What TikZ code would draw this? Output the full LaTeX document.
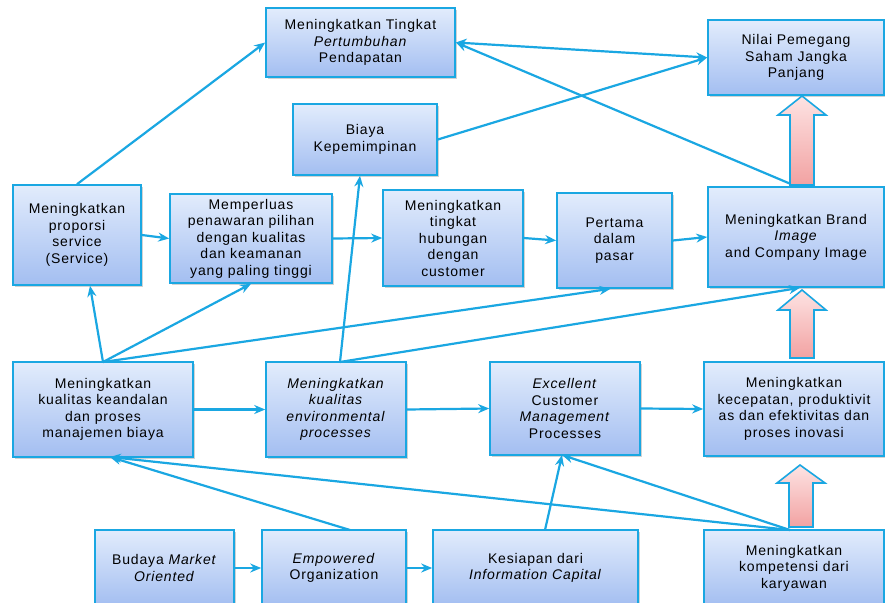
\documentclass[tikz,border=0pt]{standalone}
\usepackage{fontspec}
\setmainfont{Liberation Sans}[LetterSpace=6]
\usetikzlibrary{arrows.meta,shadows,calc}

\definecolor{edge}{HTML}{1AA7E2}
\definecolor{boxtop}{HTML}{E2ECFC}
\definecolor{boxbot}{HTML}{A3BEF1}
\definecolor{pinktop}{HTML}{FDE3E3}
\definecolor{pinkbot}{HTML}{F2A2A2}

\tikzset{
  box/.style={draw=edge, line width=1.6pt, rectangle, align=center,
    top color=boxtop, bottom color=boxbot,
    font=\fontsize{14}{16.5}\selectfont, inner sep=1pt,
    drop shadow={opacity=0.35, shadow xshift=2pt, shadow yshift=-2pt}},
  link/.style={draw=edge, line width=2.2pt, -{Stealth[length=11pt,width=9pt]}},
  duallink/.style={draw=edge, line width=2.2pt, {Stealth[length=11pt,width=9pt]}-{Stealth[length=11pt,width=9pt]}},
  blockarrow/.style={draw=edge, line width=1.6pt, top color=pinktop, bottom color=pinkbot, line join=miter}
}

\begin{document}
\begin{tikzpicture}[x=1pt,y=-1pt]
\useasboundingbox (0,0) rectangle (885,602);
\fill[white] (0,0) rectangle (885,602);

% boxes, top to bottom
\node[box, minimum width=189pt, minimum height=69pt] (tingkat) at (360.5,42.5)
  {Meningkatkan Tingkat\\\textit{Pertumbuhan}\\Pendapatan};
\node[box, minimum width=176pt, minimum height=75pt] (nilai) at (796,57.5)
  {Nilai Pemegang\\Saham Jangka\\Panjang};
\node[box, minimum width=144pt, minimum height=71pt] (biaya) at (365,139.5)
  {Biaya\\Kepemimpinan};

\node[box, minimum width=128pt, minimum height=100pt] (proporsi) at (77,235)
  {Meningkatkan\\proporsi\\service\\(Service)};
\node[box, minimum width=162pt, minimum height=89pt] (perluas) at (251,238.5)
  {Memperluas\\penawaran pilihan\\dengan kualitas\\dan keamanan\\yang paling tinggi};
\node[box, minimum width=140pt, minimum height=96pt] (hubungan) at (453,238)
  {Meningkatkan\\tingkat\\hubungan\\dengan\\customer};
\node[box, minimum width=115pt, minimum height=95pt] (pertama) at (614.5,240.5)
  {Pertama\\dalam\\pasar};
\node[box, minimum width=176pt, minimum height=100pt] (brand) at (796,237)
  {Meningkatkan Brand\\\textit{Image}\\and Company Image};

\node[box, minimum width=180pt, minimum height=95pt] (kualitas) at (103,409.5)
  {Meningkatkan\\kualitas keandalan\\dan proses\\manajemen biaya};
\node[box, minimum width=140pt, minimum height=95pt] (env) at (336,409.5)
  {\textit{Meningkatkan}\\\textit{kualitas}\\\textit{environmental}\\\textit{processes}};
\node[box, minimum width=150pt, minimum height=93pt] (excellent) at (565,408.5)
  {\textit{Excellent}\\Customer\\\textit{Management}\\Processes};
\node[box, minimum width=180pt, minimum height=94pt] (cepat) at (794,409)
  {Meningkatkan\\kecepatan, produktivit\\as dan efektivitas dan\\proses inovasi};

\node[box, minimum width=139pt, minimum height=76pt] (budaya) at (164.5,568)
  {Budaya \textit{Market}\\\textit{Oriented}};
\node[box, minimum width=144pt, minimum height=76pt] (empower) at (334,568)
  {\textit{Empowered}\\Organization};
\node[box, minimum width=205pt, minimum height=76pt] (siap) at (535.5,568)
  {Kesiapan dari\\\textit{Information Capital}};
\node[box, minimum width=180pt, minimum height=76pt] (kompeten) at (794,568)
  {Meningkatkan\\kompetensi dari\\karyawan};

% starting points of the fanned links
\coordinate (kualtop) at (103,362);
\coordinate (envtop) at (340,362);
\coordinate (emptop) at (350,530);
\coordinate (siaptop) at (545,530);
\coordinate (komptop) at (790,530);
\coordinate (kualbot) at (110,457);
\coordinate (excbot) at (562,455);

% upper links
\draw[link] (proporsi.north) -- (tingkat.west);
\draw[duallink] (tingkat.east) -- (nilai.west);
\draw[link] (biaya.east) -- (nilai.west);
\draw[link] (brand.north) -- (tingkat.east);

% middle row
\draw[link] (proporsi.east) -- (perluas.west);
\draw[link] (perluas.east) -- (hubungan.west);
\draw[link] (hubungan.east) -- (pertama.west);
\draw[link] (pertama.east) -- (brand.west);

% links rising from the process row
\draw[link] (kualtop) -- ([xshift=13pt]proporsi.south);
\draw[link] (kualtop) -- (perluas.south);
\draw[link] (kualtop) -- ([xshift=-4pt]pertama.south);
\draw[link] (envtop) -- ([xshift=-5pt]biaya.south);
\draw[link] (envtop) -- ([xshift=4pt]brand.south);

% process row
\draw[link] (kualitas.east) -- (env.west);
\draw[link] (env.east) -- (excellent.west);
\draw[link] (excellent.east) -- (cepat.west);

% bottom row
\draw[link] (budaya.east) -- (empower.west);
\draw[link] (empower.east) -- (siap.west);
\draw[link] (emptop) -- (kualbot);
\draw[link] (siaptop) -- (excbot);
\draw[link] (komptop) -- (kualbot);
\draw[link] (komptop) -- (excbot);

% block arrows between the right column boxes
\draw[blockarrow] (790,185) -- (790,115) -- (778,115) -- (802,96) -- (826,115)
  -- (814,115) -- (814,185) -- cycle;
\draw[blockarrow] (790,358) -- (790,310) -- (778,310) -- (802,290) -- (826,310)
  -- (814,310) -- (814,358) -- cycle;
\draw[blockarrow] (789,527) -- (789,483) -- (777,483) -- (800,465) -- (825,483)
  -- (813,483) -- (813,527) -- cycle;
\end{tikzpicture}
\end{document}
